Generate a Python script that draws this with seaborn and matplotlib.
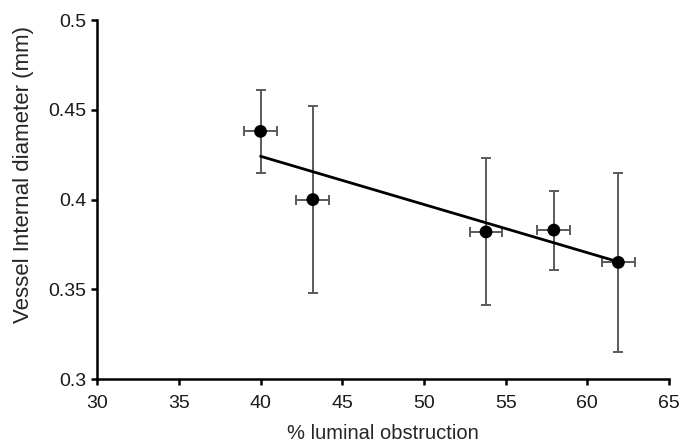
import matplotlib.pyplot as plt
import seaborn as sns
import pandas as pd

# values
obstruction = [40.0, 43.2, 53.8, 57.95, 61.9]
obstruction_err = [1.0, 1.0, 1.0, 1.0, 1.0]
diameter = [0.438, 0.400, 0.382, 0.383, 0.365]
diameter_err = [0.023, 0.052, 0.041, 0.022, 0.050]

df = pd.DataFrame({"obstruction": obstruction, "diameter": diameter})

sns.set_style("ticks")
plt.rcParams["font.family"] = ["Liberation Sans", "DejaVu Sans"]

fig = plt.figure(figsize=(6.94, 4.46), dpi=100)
ax = fig.add_axes([0.14, 0.15, 0.824, 0.805])

ax.errorbar(obstruction, diameter, xerr=obstruction_err, yerr=diameter_err,
            fmt="none", ecolor="#5a5a5a", elinewidth=1.4, capsize=3.5,
            capthick=1.4, zorder=1)

sns.regplot(data=df, x="obstruction", y="diameter", ci=None, truncate=True,
            ax=ax, color="black",
            scatter_kws={"s": 85, "alpha": 1, "zorder": 3, "edgecolor": "none"},
            line_kws={"linewidth": 2.0, "zorder": 2})

ax.set_xlim(30, 65)
ax.set_ylim(0.3, 0.5)
ax.set_xticks([30, 35, 40, 45, 50, 55, 60, 65])
ax.set_yticks([0.3, 0.35, 0.4, 0.45, 0.5])
ax.set_yticklabels(["0.3", "0.35", "0.4", "0.45", "0.5"])

ax.set_xlabel("% luminal obstruction", fontsize=14.5)
ax.set_ylabel("Vessel Internal diameter (mm)", fontsize=16)
ax.xaxis.set_label_coords(0.5, -0.125)
ax.yaxis.set_label_coords(-0.11, 0.57)

for side in ["left", "bottom"]:
    ax.spines[side].set_linewidth(1.8)
    ax.spines[side].set_color("black")
sns.despine(ax=ax)
ax.tick_params(axis="both", labelsize=14, width=1.8, length=4.5,
               color="black", labelcolor="#1a1a1a")
ax.tick_params(axis="x", pad=7)

fig.savefig("out.png", dpi=100)
